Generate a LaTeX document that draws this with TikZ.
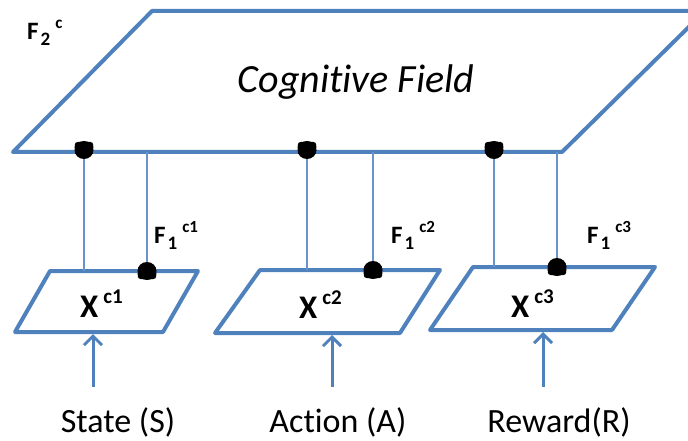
\documentclass[tikz,border=0pt]{standalone}
\usepackage{fontspec}
\setmainfont{Carlito}[Ligatures=NoCommon]
\usetikzlibrary{positioning,arrows.meta}
\definecolor{fieldblue}{RGB}{79,129,189}

% F_n^c style labels
\newcommand{\flbl}[2]{\fontsize{25}{25}\selectfont\bfseries F\hspace{2pt}\raisebox{-6pt}{\fontsize{19}{19}\selectfont #1}\hspace{5pt}\raisebox{11pt}{\fontsize{17}{17}\selectfont #2}}
\newcommand{\xlbl}[1]{\fontsize{33}{33}\selectfont\bfseries X\hspace{5pt}\raisebox{14pt}{\fontsize{21}{21}\selectfont #1}}

\begin{document}
\begin{tikzpicture}[x=1pt,y=-1pt,
    edge/.style={draw=fieldblue, line width=4pt, line join=round},
    link/.style={draw=fieldblue!85, line width=1.3pt},
    inarrow/.style={draw=fieldblue, line width=3pt, -{Straight Barb[length=9pt,width=18pt,line width=3pt]}},
    blob/.style={fill=black, rounded corners=2.5pt},
    txt/.style={inner sep=0pt, anchor=base}]

    \useasboundingbox (0,0) rectangle (688,441);

    % Cognitive field
    \draw[edge] (152,11) -- (705,11) -- (562,152) -- (13,152) -- cycle;
    \node[txt] (cf) at (356,93) {\fontsize{40}{40}\selectfont\itshape Cognitive Field};
    \node[txt, anchor=base west] (f2) at (27,40) {\flbl{2}{c}};

    % Input fields
    \foreach \i/\ta/\tb/\ba/\bb/\ty/\by in {1/50/198/15/163/271/332, 2/260/440/215/400/270/333, 3/473/655/430/612/267/330} {
      \draw[edge] (\ta,\ty) -- (\tb,\ty) -- (\bb,\by) -- (\ba,\by) -- cycle;
    }

    \node[txt, anchor=base west] (x1) at (80,317) {\xlbl{c1}};
    \node[txt, anchor=base west] (x2) at (299,318) {\xlbl{c2}};
    \node[txt, anchor=base west] (x3) at (511,317) {\xlbl{c3}};

    \node[txt, anchor=base west] (f11) at (154,243) {\flbl{1}{c1}};
    \node[txt, anchor=base west] (f12) at (391,243) {\flbl{1}{c2}};
    \node[txt, anchor=base west] (f13) at (587,243) {\flbl{1}{c3}};

    % Connections between F2 and F1
    \foreach \i/\xa/\xb/\ty in {1/84/147/271, 2/307/373/270, 3/494/557/267} {
      \coordinate (up\i) at (\xa,152);
      \coordinate (dn\i) at (\xa,\ty);
      \coordinate (upr\i) at (\xb,152);
      \coordinate (dnr\i) at (\xb,\ty);
      \draw[link] (up\i) -- (dn\i);
      \draw[link] (upr\i) -- (dnr\i);
      % blobs
      \path[blob] (\xa-9,142) -- (\xa+9,142) -- (\xa+9.5,150) -- (\xa-9.5,150) -- cycle;
      \fill (\xa,150) ellipse (9.5 and 9);
      \path[blob] (\xb-9,\ty+8) -- (\xb+9,\ty+8) -- (\xb+9.5,\ty) -- (\xb-9.5,\ty) -- cycle;
      \fill (\xb,\ty) ellipse (9.5 and 9);
    }

    % Inputs
    \node[txt] (s) at (118,432) {\fontsize{34}{34}\selectfont State (S)};
    \node[txt] (a) at (338,432) {\fontsize{34}{34}\selectfont Action (A)};
    \node[txt] (r) at (559,432) {\fontsize{34}{34}\selectfont Reward(R)};

    \foreach \n/\x/\by in {s/93/332, a/332/333, r/543/330} {
      \coordinate (\n src) at (\x,387);
      \coordinate (\n dst) at (\x,\by+2);
      \draw[inarrow] (\n src) -- (\n dst);
    }
\end{tikzpicture}
\end{document}
